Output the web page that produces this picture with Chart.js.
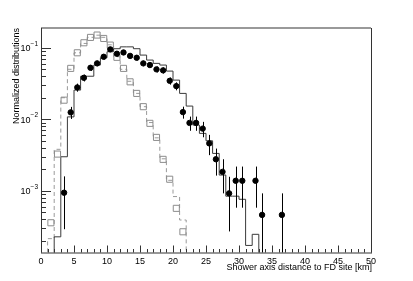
<!DOCTYPE html>
<html>
<head>
<meta charset="utf-8">
<script src="https://cdn.jsdelivr.net/npm/chart.js@4/dist/chart.umd.min.js"></script>
<style>
html,body{margin:0;padding:0;background:#fff;}
#c{display:block;}
</style>
</head>
<body>
<canvas id="c" width="413" height="281"></canvas>
<script>
// ---- data ----
// bin lower edges (km), 1 km wide bins
const solidEdges = [1,2,3,4,5,6,7,8,9,10,11,12,13,14,15,16,17,18,19,20,21,22,23,24,25,26,27,28,29,30,31,32,33,34];
const solidValues = [0,0.000227,0.00299,0.0108,0.0256,0.040,0.040,0.0573,0.0725,0.088,0.097,0.103,0.103,0.097,0.079,0.0673,0.0605,0.0573,0.0472,0.0353,0.023,0.0153,0.0083,0.00635,0.0050,0.00333,0.00166,0.00084,0.00084,0.00076,0.000172,0.000246,0,0];
const dashedEdges = [0,1,2,3,4,5,6,7,8,9,10,11,12,13,14,15,16,17,18,19,20,21,22,23];
const dashedValues = [0,0.000214,0.0038,0.020,0.050,0.085,0.115,0.140,0.150,0.140,0.110,0.075,0.050,0.034,0.023,0.015,0.009,0.0055,0.0028,0.0014,0.00083,0.00039,0,0];
const squareX = [1.5,2.5,3.5,4.5,5.5,6.5,7.5,8.5,9.5,10.5,11.5,12.5,13.5,14.5,15.5,16.5,17.5,18.5,19.5,20.5,21.5];
const squareY = [0.000357,0.00326,0.0185,0.0515,0.0851,0.1175,0.1396,0.1506,0.135,0.109,0.0735,0.0515,0.0334,0.023,0.015,0.00877,0.00558,0.00275,0.00145,0.000568,0.000267];
const dotX = [3.5,4.5,5.5,6.5,7.5,8.5,9.5,10.5,11.5,12.5,13.5,14.5,15.5,16.5,17.5,18.5,19.5,20.5,21.5,22.5,23.5,24.5,25.5,26.5,27.5,28.5,29.5,30.5,32.5,33.5,36.5];
const dotY = [0.00094,0.0125,0.0279,0.038,0.0525,0.0605,0.0748,0.095,0.0825,0.086,0.077,0.0725,0.0605,0.0573,0.0499,0.0483,0.0345,0.0291,0.0126,0.0089,0.0089,0.0074,0.0046,0.00276,0.00184,0.00092,0.00138,0.00138,0.00138,0.00046,0.00046];
const dotErr = [0.00065,0.0024,0.0036,0.0042,0.0049,0.0053,0.0059,0.0066,0.0062,0.0063,0.0059,0.0058,0.0053,0.0051,0.0048,0.0047,0.0040,0.0037,0.0024,0.0020,0.0020,0.0018,0.00145,0.00113,0.00092,0.00065,0.0008,0.0008,0.0008,0.00046,0.00046];
const xMajorTicks = [0,5,10,15,20,25,30,35,40,45,50];
const xTickLabels = ['0','5','10','15','20','25','30','35','40','45','50'];
const yMajorTicks = [0.001,0.01,0.1];
const yTickExp = ['\u22123','\u22122','\u22121'];
const xTitle = 'Shower axis distance to FD site [km]';
const yTitle = 'Normalized distributions';

const FLOOR = 1e-7;
function steps(edges, vals){
  return edges.map((e,i)=>({x:e, y: vals[i] > 0 ? vals[i] : FLOOR}));
}

const FONT = '"Liberation Sans", Arial, Helvetica, sans-serif';

const axesPlugin = {
  id:'rootAxes',
  afterDatasetsDraw(chart){
    const ctx = chart.ctx, a = chart.chartArea;
    const xs = chart.scales.x, ys = chart.scales.y;
    ctx.save();
    ctx.beginPath();
    ctx.rect(a.left, a.top, a.right-a.left, a.bottom-a.top);
    ctx.clip();
    ctx.strokeStyle = '#000';
    ctx.lineWidth = 1;
    dotX.forEach((x,i)=>{
      const px = Math.round(xs.getPixelForValue(x))+0.5;
      const lo = dotY[i]-dotErr[i];
      const yTop = ys.getPixelForValue(dotY[i]+dotErr[i]);
      const yBot = lo > 0 ? ys.getPixelForValue(lo) : a.bottom+5;
      ctx.beginPath(); ctx.moveTo(px,yTop); ctx.lineTo(px,yBot); ctx.stroke();
    });
    ctx.restore();
  },
  afterDraw(chart){
    const ctx = chart.ctx, a = chart.chartArea;
    const xs = chart.scales.x, ys = chart.scales.y;
    ctx.save();
    ctx.strokeStyle = '#999';
    ctx.lineWidth = 2;
    ctx.beginPath(); ctx.moveTo(a.left, a.top); ctx.lineTo(a.right, a.top); ctx.stroke();
    ctx.lineWidth = 1;
    ctx.strokeStyle = '#333';
    ctx.beginPath(); ctx.moveTo(a.right+0.5, a.top); ctx.lineTo(a.right+0.5, a.bottom); ctx.stroke();
    ctx.beginPath(); ctx.moveTo(a.left+0.5, a.top); ctx.lineTo(a.left+0.5, a.bottom); ctx.stroke();
    ctx.beginPath(); ctx.moveTo(a.left, a.bottom+0.5); ctx.lineTo(a.right+1, a.bottom+0.5); ctx.stroke();
    for(let v=0; v<=50; v+=1){
      const px = Math.round(xs.getPixelForValue(v))+0.5;
      const len = (v%5===0) ? 7 : 3.5;
      ctx.beginPath(); ctx.moveTo(px, a.bottom); ctx.lineTo(px, a.bottom-len); ctx.stroke();
    }
    for(let m=-4; m<=-1; m++){
      for(let k=1;k<=9;k++){
        const v = k*Math.pow(10,m);
        if(v < ys.min || v > ys.max) continue;
        const py = Math.round(ys.getPixelForValue(v))+0.5;
        const len = k===1 ? 10 : 5;
        ctx.beginPath(); ctx.moveTo(a.left, py); ctx.lineTo(a.left+len, py); ctx.stroke();
      }
    }
    ctx.fillStyle = '#000';
    ctx.font = '9px ' + FONT;
    ctx.textAlign = 'center'; ctx.textBaseline = 'top';
    xMajorTicks.forEach((v,i)=>{
      ctx.fillText(xTickLabels[i], xs.getPixelForValue(v), a.bottom+5);
    });
    yMajorTicks.forEach((v,i)=>{
      const py = ys.getPixelForValue(v);
      ctx.textAlign = 'right'; ctx.textBaseline = 'middle';
      ctx.font = '6.5px ' + FONT;
      const ew = ctx.measureText(yTickExp[i]).width;
      ctx.fillText(yTickExp[i], a.left-3, py-4);
      ctx.font = '9px ' + FONT;
      ctx.fillText('10', a.left-3-ew, py+1);
    });
    ctx.font = '9px ' + FONT;
    ctx.textAlign = 'right'; ctx.textBaseline = 'top';
    ctx.fillText(xTitle, a.right+1, a.bottom+11);
    ctx.save();
    ctx.translate(12, a.top);
    ctx.rotate(-Math.PI/2);
    ctx.textAlign = 'right'; ctx.textBaseline = 'top';
    ctx.fillText(yTitle, 0, 0);
    ctx.restore();
    ctx.restore();
  }
};

new Chart(document.getElementById('c'), {
  type:'line',
  data:{
    datasets:[
      {
        data: steps(dashedEdges, dashedValues),
        stepped:'before', borderColor:'#9a9a9a', borderWidth:1, borderDash:[4,3],
        pointRadius:0, fill:false, order:4
      },
      {
        data: steps(solidEdges, solidValues),
        stepped:'before', borderColor:'#3a3a3a', borderWidth:1,
        pointRadius:0, fill:false, order:3
      },
      {
        type:'scatter',
        data: squareX.map((x,i)=>({x, y:squareY[i]})),
        pointStyle:'rect', pointRadius:4.3, borderColor:'#8c8c8c', backgroundColor:'rgba(255,255,255,0)',
        pointBorderWidth:1, showLine:false, order:2
      },
      {
        type:'scatter',
        data: dotX.map((x,i)=>({x, y:dotY[i]})),
        pointStyle:'circle', pointRadius:2.7, borderColor:'#000', backgroundColor:'#000',
        showLine:false, order:1
      }
    ]
  },
  options:{
    responsive:false, animation:false, devicePixelRatio:1,
    layout:{padding:{left:41, right:42, top:28, bottom:28.5}},
    plugins:{legend:{display:false}, tooltip:{enabled:false}},
    scales:{
      x:{type:'linear', min:0, max:50, display:false},
      y:{type:'logarithmic', min:0.000137, max:0.189, display:false}
    }
  },
  plugins:[axesPlugin]
});
</script>
</body>
</html>
